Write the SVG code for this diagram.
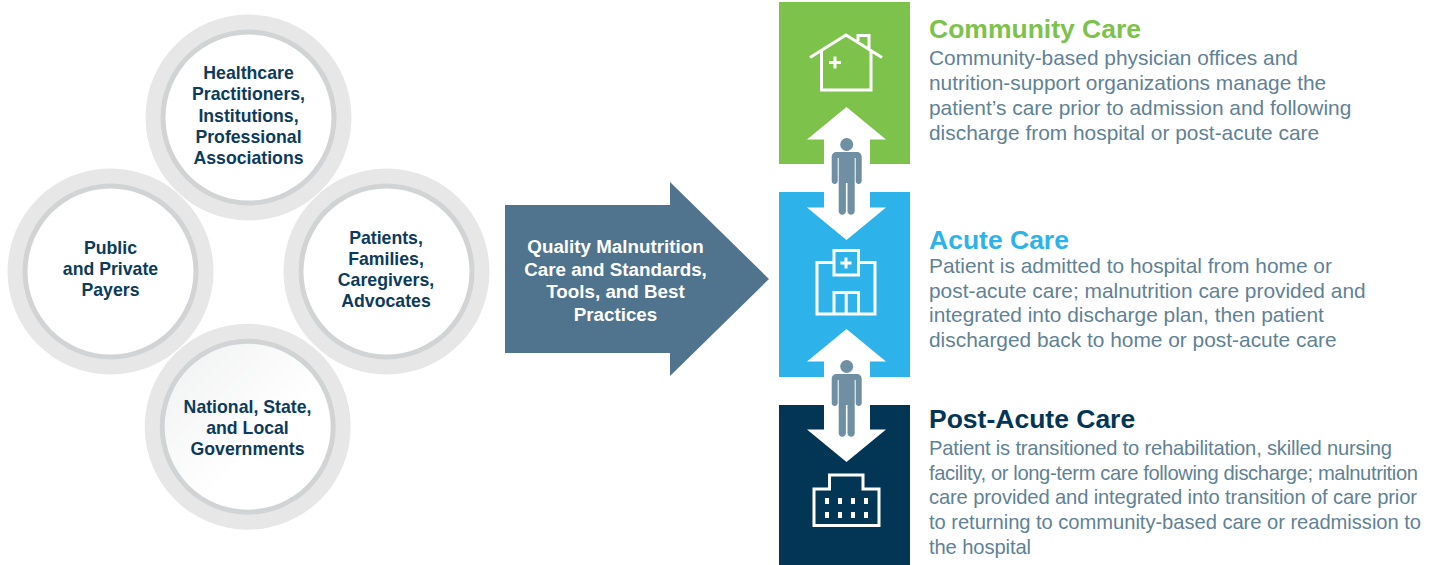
<svg xmlns="http://www.w3.org/2000/svg" width="1439" height="565" viewBox="0 0 1439 565">
<style>
text{font-family:"Liberation Sans",Arial,sans-serif}
.c{font-size:17.7px;font-weight:700;fill:#0c3b5c;text-anchor:middle}
.a{font-size:18.8px;font-weight:700;fill:#fff;text-anchor:middle}
.h{font-size:26.5px;font-weight:700}
.b{font-size:20.9px;fill:#5f8295}
.p{font-size:20.2px;fill:#5f8295}
.ic{fill:none;stroke:#fff;stroke-width:3}
.o{fill:#e7e7e7}.m{fill:#d1d3d4}
</style>
<defs>
<linearGradient id="g" x1="0" y1="0" x2="1" y2="1"><stop offset="0" stop-color="#f0f1f2"/><stop offset=".6" stop-color="#fff"/></linearGradient>
<g id="person" fill="#6f8fa3">
<circle cx="0" cy="-30.500" r="6.500"/>
<path d="M-10-23H10C13-23 15-21 15-18V6C15 10 9 10 9 6V-17H8V36C8 41 .8 41 .8 36V8H-.8V36C-.8 41-8 41-8 36V-17H-9V6C-9 10-15 10-15 6V-18C-15-21-13-23-10-23Z"/>
</g>
</defs>
<g id="node-practitioners">
<circle class="o" cx="248.500" cy="117.500" r="103"/><circle class="m" cx="248.500" cy="117.500" r="88"/><circle fill="#fff" cx="248.500" cy="117.500" r="83"/>
<text class="c" x="248.500" y="79">Healthcare</text><text class="c" x="248.500" y="100">Practitioners,</text><text class="c" x="248.500" y="122">Institutions,</text><text class="c" x="248.500" y="143">Professional</text><text class="c" x="248.500" y="164">Associations</text>
</g>
<g id="node-payers">
<circle class="o" cx="110.500" cy="271.500" r="103"/><circle class="m" cx="110.500" cy="271.500" r="88"/><circle fill="#fff" cx="110.500" cy="271.500" r="83"/>
<text class="c" x="110.500" y="254">Public</text><text class="c" x="110.500" y="275">and Private</text><text class="c" x="110.500" y="296">Payers</text>
</g>
<g id="node-patients">
<circle class="o" cx="386.500" cy="271.500" r="103"/><circle class="m" cx="386.500" cy="271.500" r="88"/><circle fill="#fff" cx="386.500" cy="271.500" r="83"/>
<text class="c" x="386" y="244">Patients,</text><text class="c" x="386" y="265">Families,</text><text class="c" x="386" y="286">Caregivers,</text><text class="c" x="386" y="307">Advocates</text>
</g>
<g id="node-governments">
<circle class="o" cx="247.700" cy="426.700" r="103"/><circle class="m" cx="247.700" cy="426.700" r="88"/><circle fill="url(#g)" cx="247.700" cy="426.700" r="83"/>
<text class="c" x="247.500" y="413">National, State,</text><text class="c" x="247.500" y="434">and Local</text><text class="c" x="247.500" y="455">Governments</text>
</g>
<g id="node-quality">
<path fill="#50748d" d="M505 205H670V182L769 279L670 376V353H505Z"/>
<text class="a" x="615.500" y="252.500">Quality Malnutrition</text><text class="a" x="615.500" y="275.500">Care and Standards,</text><text class="a" x="615.500" y="297.500">Tools, and Best</text><text class="a" x="615.500" y="320.500">Practices</text>
</g>
<g id="node-community">
<rect x="779" y="2" width="131" height="162" fill="#7dc24b"/>
<path class="ic" d="M810 57.500L846 35L882 57.500M821.500 50V90H871V50M858 41V35.500H869V50"/>
<path d="M835 56.500V68.500M829 62.500H841" class="ic"/>
<text class="h" x="929" y="38" fill="#7dc24b">Community Care</text>
<text class="b" x="929" y="65">Community-based physician offices and</text><text class="b" x="929" y="90">nutrition-support organizations manage the</text><text class="b" x="929" y="115">patient’s care prior to admission and following</text><text class="b" x="929" y="139.500">discharge from hospital or post-acute care</text>
</g>
<g id="node-acute">
<rect x="779" y="192" width="131" height="185" fill="#2db3e9"/>
<path class="ic" d="M834 262.500H817V314H875V262.500H858.500M834 250.500H858.500V275H834ZM834 314V292.500H858.500V314M846.200 292.500V314"/>
<path d="M846 257.500V268.500M840.500 263H851.500" class="ic"/>
<text class="h" x="929" y="249" fill="#2db3e9">Acute Care</text>
<text class="b" x="929" y="273">Patient is admitted to hospital from home or</text><text class="b" x="929" y="297.500">post-acute care; malnutrition care provided and</text><text class="b" x="929" y="322">integrated into discharge plan, then patient</text><text class="b" x="929" y="347">discharged back to home or post-acute care</text>
</g>
<g id="node-postacute">
<rect x="779" y="405" width="131" height="160" fill="#033655"/>
<path class="ic" d="M814 489V525.500H879V489H863V475H829.500V489Z"/>
<path fill="#fff" d="M825 498h4v6h-4zM838 498h4v6h-4zM851 498h4v6h-4zM864 498h4v6h-4zM825 512h4v6h-4zM838 512h4v6h-4zM851 512h4v6h-4zM864 512h4v6h-4z"/>
<text class="h" x="929" y="428" fill="#033655">Post-Acute Care</text>
<text class="p" x="929" y="455" textLength="463">Patient is transitioned to rehabilitation, skilled nursing</text><text class="p" x="929" y="480" textLength="489">facility, or long-term care following discharge; malnutrition</text><text class="p" x="929" y="504" textLength="488">care provided and integrated into transition of care prior</text><text class="p" x="929" y="529" textLength="492">to returning to community-based care or readmission to</text><text class="p" x="929" y="553.500" textLength="102">the hospital</text>
</g>
<g id="connectors">
<path id="arrow-community-acute" fill="#fff" d="M846.500 107L886 139.500H870V207.500H886L846.500 240L807 207.500H824V139.500H807Z"/>
<path id="arrow-acute-postacute" fill="#fff" d="M846.500 329L886 361.500H870V429.500H886L846.500 462L807 429.500H824V361.500H807Z"/>
<use href="#person" x="846.700" y="175"/>
<use href="#person" x="846.700" y="397"/>
</g>
</svg>
